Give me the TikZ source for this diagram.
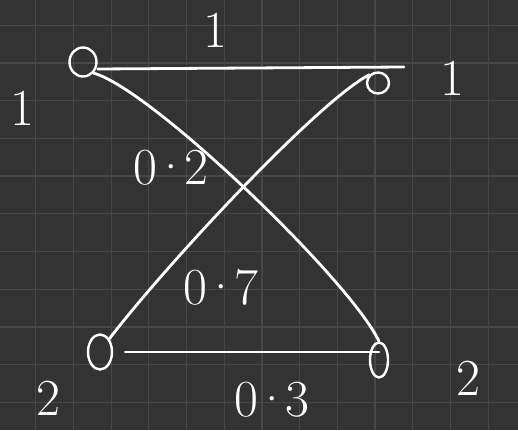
\documentclass[tikz,border=0pt]{standalone}
\usetikzlibrary{shapes.geometric}
\definecolor{board}{HTML}{333333}
\definecolor{gridc}{HTML}{474747}
\newcommand{\pdot}{\kern-5pt·\kern-5pt}
\begin{document}
\begin{tikzpicture}[x=1pt,y=-1pt,
  vert/.style={draw=white,ellipse,line width=2.4pt,inner sep=0pt},
  edge/.style={draw=white,line width=2.8pt,line cap=round},
  lab/.style={text=white,inner sep=0pt,font=\fontsize{52}{52}\selectfont}]
\fill[board](0,0) rectangle (518,430);
\useasboundingbox (0,0) rectangle (518,430);
\foreach \k in {0,...,12}
  \draw[gridc,line width=1.2pt](35.7+37.7*\k,0)--(35.7+37.7*\k,430);
\foreach \k in {0,...,10}
  \draw[gridc,line width=1.2pt](0,25.3+37.7*\k)--(518,25.3+37.7*\k);
% vertices
\node[vert,minimum width=27pt,minimum height=29pt] (l1) at (83,62) {};
\node[vert,minimum width=22pt,minimum height=21pt] (r1) at (378,83) {};
\node[vert,minimum width=24pt,minimum height=35pt] (l2) at (100,352) {};
\node[vert,minimum width=18pt,minimum height=35pt] (r2) at (379,360) {};
\coordinate (topend) at (404,67);
% edges
\draw[edge] ([yshift=-7pt]l1.east) -- (topend);
\draw[edge] (l1.south east) .. controls (150,88) and (350,280) .. (r2.north);
\draw[edge] (r1.north west) .. controls (320,100) and (170,260) .. (l2.north east);
\draw[edge] ([xshift=12pt]l2.east) -- (l2.east -| r2);
% labels
\node[lab] (wtop) at (215,30) {1};
\node[lab] (nl1) at (22,108) {1};
\node[lab] (nr1) at (452,78) {1};
\node[lab] (wl1r2) at (171,168) {0\pdot2};
\node[lab] (wr1l2) at (221,287) {0\pdot7};
\node[lab] (nl2) at (48,398) {2};
\node[lab] (nr2) at (468,378) {2};
\node[lab] (wbot) at (272,400) {0\pdot3};
\end{tikzpicture}
\end{document}
